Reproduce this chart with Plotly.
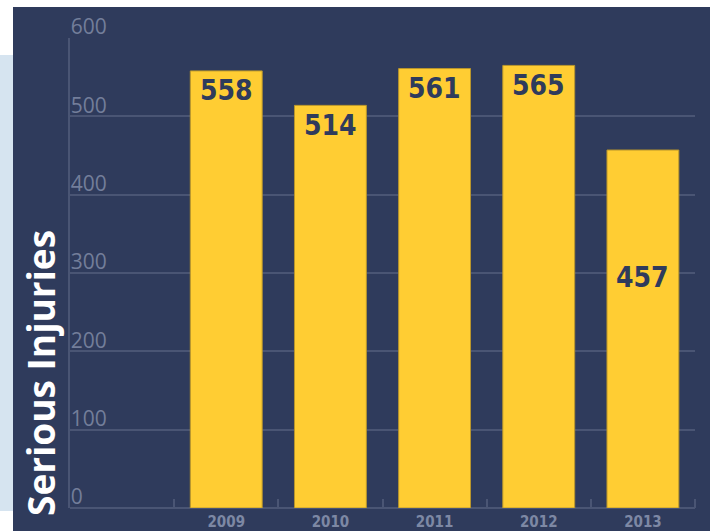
import plotly.graph_objects as go

years = ["2009", "2010", "2011", "2012", "2013"]
injuries = [558, 514, 561, 565, 457]
y_ticks = [0, 100, 200, 300, 400, 500, 600]

NAVY = "#2f3b5c"
GRID = "#4a5574"
TICK = "#737e9a"
YELLOW = "#ffcd33"
COND = "DejaVu Sans Condensed"

xpos = list(range(len(years)))

fig = go.Figure()
fig.add_trace(go.Bar(
    x=xpos, y=injuries, width=0.69,
    marker=dict(color=YELLOW, line=dict(color="#b9962c", width=1)),
    hoverinfo="skip",
))

label_font = dict(family=COND, size=28, color=NAVY, weight="bold")
for i, v in enumerate(injuries):
    if i == len(injuries) - 1:
        fig.add_annotation(x=i, y=v * 0.645, text=str(v), showarrow=False,
                           font=label_font, xref="x", yref="y")
    else:
        fig.add_annotation(x=i, y=v, yshift=-20, text=str(v), showarrow=False,
                           font=label_font, xref="x", yref="y")

PW, PH = 625, 470
L, T = 70, 38
def px(x):
    return (x - L) / PW
def py(y):
    return (T + PH - y) / PH

fig.add_shape(type="rect", xref="paper", yref="paper", layer="below",
              x0=px(13), x1=px(710), y0=py(531), y1=py(7),
              fillcolor=NAVY, line_width=0)
fig.add_shape(type="rect", xref="paper", yref="paper", layer="below",
              x0=px(0), x1=px(13), y0=py(511), y1=py(55),
              fillcolor="#d6e4f0", line_width=0)

fig.add_annotation(text="Serious Injuries", textangle=-90, showarrow=False,
                   xref="paper", yref="paper", x=px(40), y=py(373),
                   xanchor="center", yanchor="middle",
                   font=dict(family="Open Sans", size=37, color="white", weight="bold"))

fig.update_layout(
    width=714, height=531,
    margin=dict(l=L, r=714 - L - PW, t=T, b=531 - T - PH, pad=0, autoexpand=False),
    paper_bgcolor="white", plot_bgcolor=NAVY,
    showlegend=False,
    xaxis=dict(
        range=[-1.5, 4.5], tickvals=xpos, ticktext=years, automargin=False,
        ticks="", showgrid=False, zeroline=False, showline=False,
        tickfont=dict(family=COND, size=15, color="#7d88a4", weight="bold"),
        ticklabelstandoff=3,
        minor=dict(tickvals=[-0.5, 0.5, 1.5, 2.5, 3.5, 4.5], ticks="inside", ticklen=9,
                   tickcolor=GRID, tickwidth=2, showgrid=False),
    ),
    yaxis=dict(
        range=[0, 600], tickvals=y_ticks, automargin=False,
        showgrid=True, gridcolor=GRID, gridwidth=2,
        zeroline=True, zerolinecolor=GRID, zerolinewidth=2,
        showline=True, linecolor=GRID, linewidth=2,
        ticks="", ticklabelposition="inside", ticklabeloverflow="allow",
        ticklabelshift=-11, ticklabelstandoff=2,
        tickfont=dict(family="Open Sans", size=21, color=TICK),
    ),
)

fig.write_html("out.html", config={"displayModeBar": False},
               post_script="document.body.style.margin='0';document.body.style.overflow='hidden';")
